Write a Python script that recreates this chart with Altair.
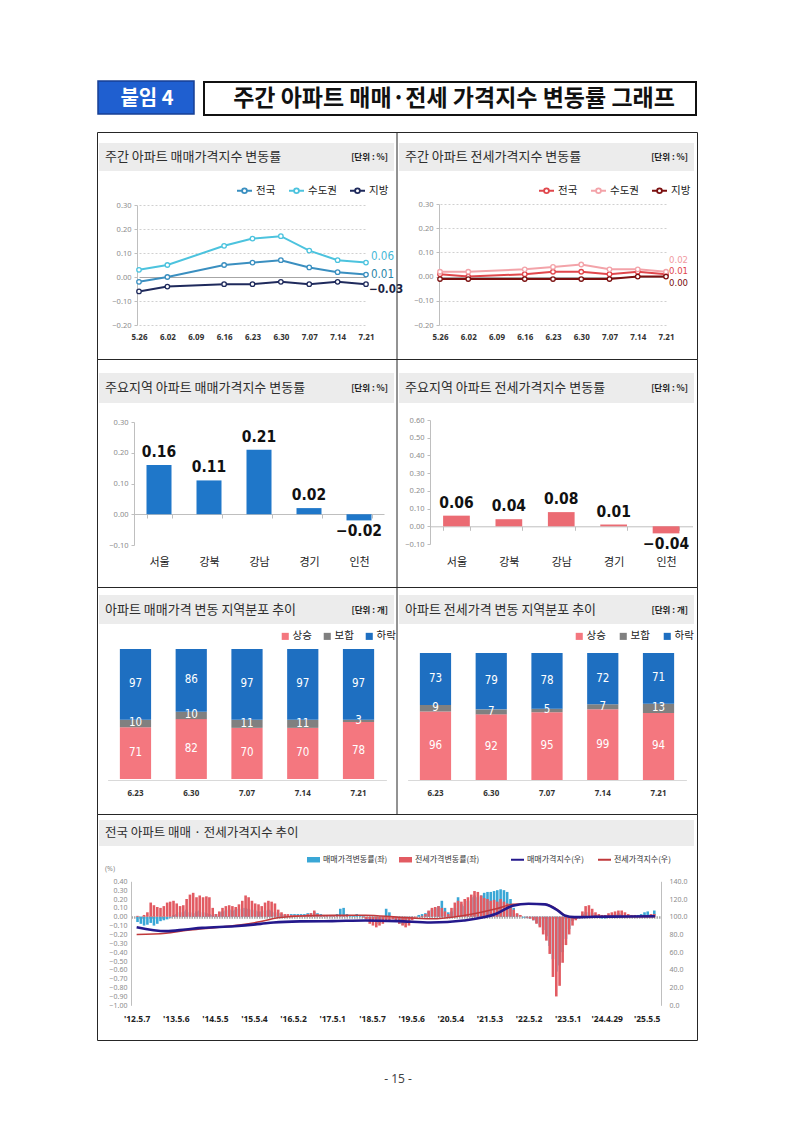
import altair as alt
import pandas as pd

KR = "Noto Sans CJK KR"
LAT = "Noto Sans"
NUM = "Liberation Sans Narrow, DejaVu Sans Condensed, Roboto Condensed, Liberation Sans, sans-serif"

# ---------------- data ----------------
weeks = ["5.26", "6.02", "6.09", "6.16", "6.23", "6.30", "7.07", "7.14", "7.21"]
regions = ["전국", "수도권", "지방"]
sale_nation = [-0.02, 0.00, None, 0.05, 0.06, 0.07, 0.04, 0.02, 0.01]
sale_capital = [0.03, 0.05, None, 0.13, 0.16, 0.17, 0.11, 0.07, 0.06]
sale_local = [-0.06, -0.04, None, -0.03, -0.03, -0.02, -0.03, -0.02, -0.03]
jeonse_nation = [0.01, 0.00, None, 0.01, 0.02, 0.02, 0.01, 0.02, 0.01]
jeonse_capital = [0.02, 0.02, None, 0.03, 0.04, 0.05, 0.03, 0.03, 0.02]
jeonse_local = [-0.01, -0.01, None, -0.01, -0.01, -0.01, -0.01, 0.00, 0.00]
line_ticks = [-0.2, -0.1, 0.0, 0.1, 0.2, 0.3]

areas = ["서울", "강북", "강남", "경기", "인천"]
sale_major = [0.16, 0.11, 0.21, 0.02, -0.02]
jeonse_major = [0.06, 0.04, 0.08, 0.01, -0.04]
sale_major_ticks = [-0.1, 0.0, 0.1, 0.2, 0.3]
jeonse_major_ticks = [-0.1, 0.0, 0.1, 0.2, 0.3, 0.4, 0.5, 0.6]

dist_weeks = ["6.23", "6.30", "7.07", "7.14", "7.21"]
dist_cats = ["상승", "보합", "하락"]
sale_up = [71, 82, 70, 70, 78]
sale_flat = [10, 10, 11, 11, 3]
sale_down = [97, 86, 97, 97, 97]
jeonse_up = [96, 92, 95, 99, 94]
jeonse_flat = [9, 7, 5, 7, 13]
jeonse_down = [73, 79, 78, 72, 71]

# long-run weekly-rate chart, 2012-05 .. 2025-07
rate_months = [f"{2012 + (4 + i) // 12}-{(4 + i) % 12 + 1:02d}-15" for i in range(159)]
sale_rate = [
    -0.06, -0.08, -0.10, -0.09, -0.07, -0.10, -0.08, -0.05, -0.04, -0.03,
    -0.01, 0.02, 0.03, 0.05, 0.06, 0.08, 0.05, 0.04, 0.06, 0.07,
    0.05, 0.04, 0.03, 0.02, 0.03, 0.05, 0.06, 0.07, 0.08, 0.07,
    0.08, 0.09, 0.10, 0.10, 0.09, 0.08, 0.07, 0.06, 0.06, 0.07,
    0.08, 0.07, 0.05, 0.04, 0.03, 0.02, 0.02, 0.03, 0.03, 0.03,
    0.03, 0.03, 0.04, 0.04, 0.05, 0.04, 0.03, 0.02, 0.02, 0.02,
    0.02, 0.03, 0.09, 0.10, 0.03, 0.02, 0.02, 0.03, 0.02, 0.01,
    0.00, -0.02, -0.05, -0.08, -0.07, -0.06, 0.09, 0.05, 0.00, -0.05,
    -0.08, -0.09, -0.08, -0.05, -0.02, 0.00, 0.02, 0.03, 0.04, 0.06,
    0.08, 0.10, 0.12, 0.18, 0.10, 0.05, 0.06, 0.10, 0.22, 0.14,
    0.12, 0.18, 0.22, 0.24, 0.22, 0.24, 0.27, 0.28, 0.28, 0.29,
    0.30, 0.31, 0.30, 0.28, 0.20, 0.10, 0.03, 0.00, -0.01, -0.01,
    -0.02, -0.04, -0.07, -0.10, -0.15, -0.22, -0.33, -0.48, -0.62, -0.55,
    -0.40, -0.25, -0.14, -0.05, -0.02, 0.00, 0.03, 0.05, 0.05, 0.04,
    0.02, 0.00, -0.02, -0.02, 0.00, 0.02, 0.03, 0.04, 0.03, 0.02,
    0.00, 0.00, 0.01, 0.02, 0.03, 0.05, 0.06, 0.03, 0.07,
]
jeonse_rate = [
    0.01, 0.00, 0.02, 0.05, 0.16, 0.13, 0.11, 0.10, 0.12, 0.16,
    0.17, 0.18, 0.15, 0.12, 0.13, 0.20, 0.25, 0.27, 0.22, 0.24,
    0.22, 0.23, 0.22, 0.10, 0.03, 0.06, 0.10, 0.12, 0.13, 0.12,
    0.11, 0.14, 0.18, 0.24, 0.22, 0.18, 0.15, 0.14, 0.12, 0.16,
    0.18, 0.17, 0.15, 0.08, 0.05, 0.03, 0.03, 0.02, 0.02, 0.02,
    0.02, 0.02, 0.03, 0.04, 0.07, 0.03, 0.02, 0.02, 0.01, 0.01,
    0.01, 0.01, 0.01, 0.01, 0.01, 0.00, 0.00, 0.00, 0.00, -0.01,
    -0.03, -0.08, -0.10, -0.12, -0.10, -0.08, -0.06, -0.04, -0.03, -0.05,
    -0.08, -0.10, -0.12, -0.10, -0.04, -0.01, 0.00, 0.01, 0.03, 0.07,
    0.10, 0.11, 0.12, 0.10, 0.06, 0.03, 0.10, 0.16, 0.18, 0.17,
    0.20, 0.22, 0.25, 0.29, 0.28, 0.24, 0.21, 0.20, 0.18, 0.19,
    0.17, 0.20, 0.17, 0.15, 0.12, 0.08, 0.04, 0.02, 0.00, -0.01,
    -0.02, -0.04, -0.08, -0.12, -0.20, -0.27, -0.42, -0.68, -0.90, -0.78,
    -0.52, -0.32, -0.20, -0.10, -0.04, 0.00, 0.06, 0.12, 0.13, 0.09,
    0.05, 0.03, 0.02, 0.02, 0.04, 0.05, 0.06, 0.07, 0.07, 0.05,
    0.03, 0.02, 0.02, 0.01, 0.02, 0.02, 0.02, 0.03, 0.03,
]
idx_dates = ["2012-05-07", "2013-02-04", "2013-08-05", "2014-01-06", "2014-11-03",
             "2015-07-06", "2015-11-02", "2016-07-04", "2017-05-01", "2018-03-05",
             "2019-01-07", "2019-11-04", "2020-09-07", "2021-07-05", "2021-12-06",
             "2022-05-02", "2022-10-03", "2023-02-06", "2023-04-03", "2023-07-03",
             "2024-01-08", "2024-11-04", "2025-07-21"]
sale_index = [88.2, 83.7, 85.6, 87.4, 89.3, 91.9, 93.5, 94.7, 95.0, 95.8, 95.0, 93.5,
              95.8, 103.3, 112.4, 114.7, 114.0, 106.4, 101.4, 99.5, 99.9, 100.3, 100.6]
jeonse_index = [79.9, 81.4, 84.4, 86.3, 90.1, 94.5, 98.0, 100.7, 101.8, 101.8, 99.5, 97.6,
                101.4, 109.0, 114.0, 114.7, 114.0, 107.1, 101.4, 98.8, 100.3, 100.0, 100.0]
tick_dates = ["2012-05-07", "2013-05-06", "2014-05-05", "2015-05-04", "2016-05-02",
              "2017-05-01", "2018-05-07", "2019-05-06", "2020-05-04", "2021-05-03",
              "2022-05-02", "2023-05-01", "2024-04-29", "2025-05-05"]
rate_ticks = [0.4, 0.3, 0.2, 0.1, 0.0, -0.1, -0.2, -0.3, -0.4, -0.5, -0.6, -0.7, -0.8, -0.9, -1.0]
index_ticks = [0, 20, 40, 60, 80, 100, 120, 140]
rate_series = ["매매가격변동률(좌)", "전세가격변동률(좌)"]
index_series = ["매매가격지수(우)", "전세가격지수(우)"]

# ---------------- helpers ----------------
DUMMY = alt.Data(values=[{"k": 0}])
PANEL_VIEW = alt.ViewBackground(stroke="#262626", strokeWidth=1)
ZERO = "abs(datum.value) < 1e-9"
LINE_SYM = "M-1,0H-0.32M0.32,0H1M0.32,0A0.32,0.32,0,1,1,-0.32,0A0.32,0.32,0,1,1,0.32,0"


def ms(d):
    return int(pd.Timestamp(d, tz="UTC").timestamp() * 1000)


def deco_rect(x, x2, y, y2, **kw):
    return alt.Chart(DUMMY).mark_rect(**kw).encode(
        x=alt.value(x), x2=alt.value(x2), y=alt.value(y), y2=alt.value(y2))


def deco_text(text, x, y, **kw):
    return alt.Chart(DUMMY).mark_text(text=text, **kw).encode(x=alt.value(x), y=alt.value(y))


def title_bar(title, unit, y0, y1, x0=0, w=300, fs=13):
    ty = (y0 + y1) / 2
    layers = [deco_rect(x0 + 2, x0 + w - 3, y0, y1, fill="#ececec"),
              deco_text(title, x0 + 8, ty, align="left", baseline="middle", font=KR,
                        fontSize=fs, color="#2e2e2e")]
    if unit:
        layers.append(deco_text(unit, x0 + w - 9, ty, align="right", baseline="middle", font=KR,
                                fontSize=8.5, fontWeight="bold", color="#222"))
    return layers


def shift(r, x0):
    return [r[0] + x0, r[1] + x0]


def line_panel(series, colors, title, x_range, axis_x, y_range, leg_x, end_specs, x0, end_fs):
    rows = [{"week": wk, "region": reg, "value": v}
            for reg, vals in zip(regions, series) for wk, v in zip(weeks, vals) if v is not None]
    df = pd.DataFrame(rows)
    xe = alt.X("week:O", scale=alt.Scale(type="point", domain=weeks, range=shift(x_range, x0), padding=0),
               axis=alt.Axis(title=None, orient="bottom", domain=False, ticks=False, labelAngle=0,
                             labelFont=LAT, labelFontSize=8, labelFontWeight="bold", labelColor="#333",
                             labelPadding=2, offset=-28))
    ye = alt.Y("value:Q", scale=alt.Scale(domain=[-0.2, 0.3], range=y_range, nice=False, zero=False),
               axis=alt.Axis(title=None, orient="left", values=line_ticks, format=".2f",
                             offset=-(x0 + axis_x), domainColor="#bfbfbf", tickColor="#bfbfbf", tickSize=3,
                             labelColor="#8c8c8c", labelFont=LAT, labelFontSize=7.5, labelPadding=3,
                             grid=True,
                             gridColor={"condition": {"test": ZERO, "value": "#a6a6a6"}, "value": "#d0d0d0"},
                             gridDash={"condition": {"test": ZERO, "value": []}, "value": [2, 2]}))
    cs = alt.Scale(domain=regions, range=colors)
    base = alt.Chart(df)
    line = base.mark_line(strokeWidth=2).encode(
        x=xe, y=ye,
        color=alt.Color("region:N", scale=cs,
                        legend=alt.Legend(title=None, orient="none", legendX=leg_x + x0, legendY=50,
                                          direction="horizontal", symbolType=LINE_SYM, symbolSize=225,
                                          symbolStrokeWidth=1.8, labelFont=KR, labelFontSize=10.5,
                                          labelColor="#222", labelOffset=3, columnPadding=9)))
    pts = base.mark_point(filled=False, fill="white", size=20, strokeWidth=1.3, opacity=1).encode(
        x=xe, y=ye, color=alt.Color("region:N", scale=cs, legend=None))
    ends = []
    for reg, col, dx, dy, fw in end_specs:
        ends.append(base.transform_filter(f"datum.week == '7.21' && datum.region == '{reg}'")
                    .mark_text(align="left", baseline="middle", dx=dx, dy=dy, font=NUM, fontSize=end_fs,
                               fontWeight=fw, color=col)
                    .encode(x=xe, y=ye, text=alt.Text("value:Q", format=".2f")))
    return title_bar(title, "[단위 : %]", 11, 39, x0=x0), alt.layer(line, pts, *ends)


def bar_panel(vals, color, title, ydom, yrange, yticks, x_range, pin, axis_x, zero_y, lab_pad, x0, H=228):
    df = pd.DataFrame({"area": areas, "v": vals})
    xe = alt.X("area:N", sort=areas,
               scale=alt.Scale(domain=areas, range=shift(x_range, x0), paddingInner=pin, paddingOuter=0.25),
               axis=alt.Axis(title=None, orient="bottom", offset=-(H - zero_y), domainColor="#bfbfbf",
                             tickColor="#bfbfbf", tickSize=4, tickBand="extent", labelAngle=0, labelFont=KR,
                             labelFontSize=11, labelColor="#222", labelPadding=lab_pad))
    ye = alt.Y("v:Q", scale=alt.Scale(domain=ydom, range=yrange, nice=False, zero=False),
               axis=alt.Axis(title=None, orient="left", values=yticks, format=".2f", offset=-(x0 + axis_x),
                             grid=False, domainColor="#bfbfbf", tickColor="#bfbfbf", tickSize=3,
                             labelColor="#8c8c8c", labelFont=LAT, labelFontSize=7.5, labelPadding=3))
    base = alt.Chart(df)
    bars = base.mark_bar(color=color).encode(x=xe, y=ye, y2=alt.datum(0))
    pos = base.transform_filter("datum.v >= 0").mark_text(
        baseline="bottom", dy=-5, font=NUM, fontSize=15.5, fontWeight="bold", color="#111").encode(
        x=xe, y=ye, text=alt.Text("v:Q", format=".2f"))
    neg = base.transform_filter("datum.v < 0").mark_text(
        baseline="top", dy=4, font=NUM, fontSize=15.5, fontWeight="bold", color="#111").encode(
        x=xe, y=ye, text=alt.Text("v:Q", format=".2f"))
    return title_bar(title, "[단위 : %]", 14, 44, x0=x0), alt.layer(bars, pos, neg)


def stack_panel(up, flat, down, title, yrange, leg_x, colpad, x0, H=227):
    rows = []
    for i, wk in enumerate(dist_weeks):
        for o, (cat, arr) in enumerate(zip(dist_cats, [up, flat, down])):
            rows.append({"wk": wk, "cat": cat, "n": arr[i], "o": o})
    df = pd.DataFrame(rows)
    xe = alt.X("wk:N", sort=dist_weeks,
               scale=alt.Scale(domain=dist_weeks, range=shift([10.6, 289.4], x0),
                               paddingInner=0.44, paddingOuter=0.22),
               axis=alt.Axis(title=None, orient="bottom", offset=-(H - 193), domainColor="#d9d9d9",
                             ticks=False, labelAngle=0, labelFont=LAT, labelFontSize=8,
                             labelFontWeight="bold", labelColor="#333", labelPadding=9))
    ys = alt.Scale(domain=[0, 178], range=yrange, nice=False, zero=False)
    bars = alt.Chart(df).mark_bar().encode(
        x=xe, y=alt.Y("n:Q", stack="zero", scale=ys, axis=None),
        color=alt.Color("cat:N", scale=alt.Scale(domain=dist_cats, range=["#f4777f", "#808080", "#1e6fc1"]),
                        legend=alt.Legend(title=None, orient="none", legendX=leg_x + x0, legendY=44,
                                          direction="horizontal", symbolType="square", symbolSize=50,
                                          labelFont=KR, labelFontSize=10.5, labelColor="#222",
                                          labelOffset=2, columnPadding=colpad)),
        order=alt.Order("o:Q"))
    labels = alt.Chart(df).transform_stack(
        stack="n", as_=["y0", "y1"], groupby=["wk"], sort=[alt.SortField("o")]
    ).transform_calculate(mid="(datum.y0 + datum.y1) / 2").mark_text(
        color="white", font=NUM, fontSize=11.5, baseline="middle").encode(
        x=xe, y=alt.Y("mid:Q", scale=ys, axis=None), text="n:Q")
    return title_bar(title, "[단위 : 개]", 8, 37, x0=x0), alt.layer(bars, labels)


def row(left, right, H):
    decos_l, g_l = left
    decos_r, g_r = right
    divider = alt.Chart(DUMMY).mark_rule(color="#262626", strokeWidth=1).encode(
        x=alt.value(300), y=alt.value(0), y2=alt.value(H))
    return alt.layer(*decos_l, *decos_r, g_l, g_r, divider).resolve_scale(
        x="independent", y="independent", color="independent").properties(
        width=600, height=H, view=PANEL_VIEW)


# ---------------- panels ----------------
p1 = line_panel([sale_nation, sale_capital, sale_local], ["#3a8fc0", "#4cc3de", "#1f2a5c"],
                "주간 아파트 매매가격지수 변동률", [42, 269], 40, [193, 73], 139,
                [("수도권", "#47b9d8", 5, -6, "normal"), ("전국", "#2a85a8", 5, 0, "normal"),
                 ("지방", "#1b2443", 3, 6, "bold")], 0, 11.5)
p2 = line_panel([jeonse_nation, jeonse_capital, jeonse_local], ["#e0474c", "#f3a3a9", "#7b1010"],
                "주간 아파트 전세가격지수 변동률", [43, 269], 42, [193, 72], 141,
                [("수도권", "#f19aa0", 3, -12, "normal"), ("전국", "#e0464c", 3, -3, "normal"),
                 ("지방", "#7a0d0d", 3, 6, "normal")], 300, 9.5)
p3 = bar_panel(sale_major, "#1f77c9", "주요지역 아파트 매매가격지수 변동률", [-0.1, 0.3], [186, 63],
               sale_major_ticks, [37, 287], 0.5, 37, 155, 38, 0)
p4 = bar_panel(jeonse_major, "#eb6b73", "주요지역 아파트 전세가격지수 변동률", [-0.1, 0.6], [185, 61],
               jeonse_major_ticks, [33, 295.5], 0.49, 33, 167.3, 26, 300)
p5 = stack_panel(sale_up, sale_flat, sale_down, "아파트 매매가격 변동 지역분포 추이", [192, 62], 183, 10, 0)
p6 = stack_panel(jeonse_up, jeonse_flat, jeonse_down, "아파트 전세가격 변동 지역분포 추이", [193, 66], 177, 12, 300)

row1 = row(p1, p2, 227)
row2 = row(p3, p4, 228)
row3 = row(p5, p6, 227)

# bottom long-run chart
rate_df = pd.DataFrame(
    [{"date": d, "series": rate_series[0], "rate": v} for d, v in zip(rate_months, sale_rate)]
    + [{"date": d, "series": rate_series[1], "rate": v} for d, v in zip(rate_months, jeonse_rate)])
sale_idx_df = pd.DataFrame({"date": idx_dates, "series": index_series[0], "idx": sale_index})
jeonse_idx_df = pd.DataFrame({"date": idx_dates, "series": index_series[1], "idx": jeonse_index})

LABEL_EXPR = "\"'\" + utcFormat(datum.value, '%y') + '.' + (utcmonth(datum.value) + 1) + '.' + utcdate(datum.value)"
xs = alt.Scale(type="utc", domain=[ms("2012-05-01"), ms("2025-07-31")], range=[34, 564])
xe7 = alt.X("date:T", scale=xs,
            axis=alt.Axis(title=None, orient="bottom", values=[ms(d) for d in tick_dates], labelExpr=LABEL_EXPR,
                          domain=False, ticks=False, grid=False, labelAngle=0, labelFlush=False,
                          labelOverlap=False, labelFont=LAT, labelFontSize=8.5, labelFontWeight="bold",
                          labelColor="#222", labelPadding=5, offset=-31))
yl = alt.Y("rate:Q", scale=alt.Scale(domain=[-1.0, 0.4], range=[191.3, 67.3], nice=False, zero=False),
           axis=alt.Axis(title=None, orient="left", offset=-34, values=rate_ticks, format=".2f",
                         domainColor="#bfbfbf", ticks=False, labelColor="#8c8c8c", labelFont=LAT,
                         labelFontSize=7, labelPadding=4, grid=True,
                         gridColor={"condition": {"test": ZERO, "value": "#a9a9a9"}, "value": "transparent"},
                         gridDash=[1.5, 1], gridWidth=2.5))
idx_scale = alt.Scale(domain=[0, 140], range=[191.3, 67.3], nice=False, zero=False)
yr = alt.Y("idx:Q", scale=idx_scale,
           axis=alt.Axis(title=None, orient="right", offset=-36, values=index_ticks, format=".1f",
                         domainColor="#bfbfbf", ticks=False, labelColor="#8c8c8c", labelFont=LAT,
                         labelFontSize=7, labelPadding=8, grid=False))
stroke_enc = alt.Stroke("series:N", scale=alt.Scale(domain=index_series, range=["#24198c", "#c0393b"]),
                        legend=alt.Legend(title=None, orient="none", legendX=413, legendY=38,
                                          direction="horizontal", symbolType="stroke", symbolSize=169,
                                          symbolStrokeWidth=2, labelFont=KR, labelFontSize=8,
                                          labelColor="#333", labelOffset=2, columnPadding=10))
rate_bars = alt.Chart(rate_df).mark_bar(size=2.6).encode(
    x=xe7, y=yl, y2=alt.datum(0),
    fill=alt.Fill("series:N", scale=alt.Scale(domain=rate_series, range=["#3aa7d6", "#e25b62"]),
                  legend=alt.Legend(title=None, orient="none", legendX=209, legendY=38,
                                    direction="horizontal", symbolType="M-1,-0.42H1V0.42H-1Z",
                                    symbolSize=169, labelFont=KR, labelFontSize=8, labelColor="#333",
                                    labelOffset=2, columnPadding=10)))
jeonse_line = alt.Chart(jeonse_idx_df).mark_line(strokeWidth=1.5, interpolate="monotone").encode(
    x=xe7, y=yr, stroke=stroke_enc)
sale_line = alt.Chart(sale_idx_df).mark_line(strokeWidth=2.6, interpolate="monotone").encode(
    x=xe7, y=yr, stroke=stroke_enc)

p7 = alt.layer(
    *title_bar("전국 아파트 매매 · 전세가격지수 추이", None, 6, 32, w=600, fs=12.5),
    deco_text("(%)", 8, 55, align="left", baseline="middle", font=LAT, fontSize=7, color="#8c8c8c"),
    rate_bars,
    alt.layer(jeonse_line, sale_line),
).resolve_scale(y="independent").properties(width=600, height=226, view=PANEL_VIEW)

# header & footer
header = alt.layer(
    deco_rect(1, 97, 0, 33, fill="#1f5fd0", stroke="#173f94", strokeWidth=1.5),
    deco_text("붙임 4", 50, 17.5, align="center", baseline="middle", font=KR, fontSize=20,
              fontWeight="bold", color="white"),
    deco_rect(107, 599, 1, 34, fill="white", stroke="#111", strokeWidth=2),
    deco_text("주간 아파트 매매·전세 가격지수 변동률 그래프", 357, 18, align="center", baseline="middle",
              font=KR, fontSize=23, fontWeight="bold", color="#111"),
).properties(width=600, height=51)

footer = deco_text("- 15 -", 301, 39, align="center", baseline="middle", font=LAT, fontSize=12,
                   color="#444").properties(width=600, height=70)

chart = alt.vconcat(header, row1, row2, row3, p7, footer, spacing=0, bounds="flush").resolve_scale(
    color="independent", fill="independent", stroke="independent").properties(
    padding={"left": 88, "top": 71, "right": 5, "bottom": 5}
).configure(font=KR).configure_view(stroke="transparent")

chart.save("out.html", embed_options={"renderer": "svg", "actions": False})
